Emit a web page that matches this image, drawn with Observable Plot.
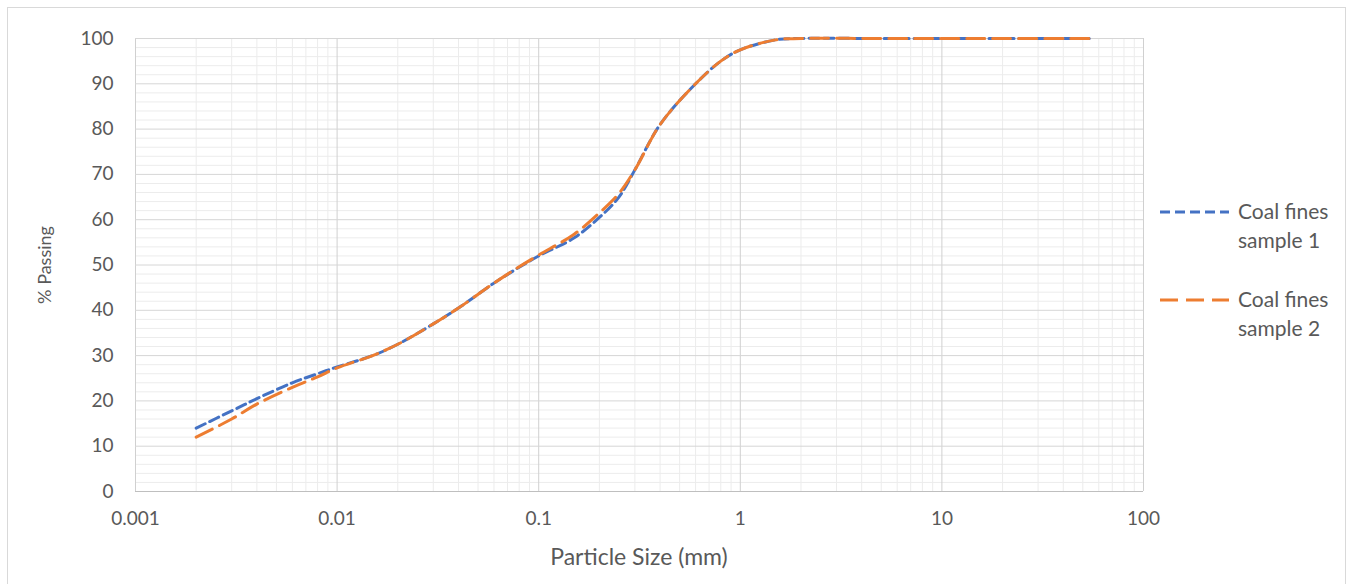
<!DOCTYPE html>
<html>
<head>
<meta charset="utf-8">
<script src="https://cdn.jsdelivr.net/npm/d3@7"></script>
<script src="https://cdn.jsdelivr.net/npm/@observablehq/plot@0.6"></script>
<style>
  html, body { margin: 0; padding: 0; background: #fff; }
  #chart svg { display: block; }
</style>
</head>
<body>
<div id="chart"></div>
<script>
// Particle size (mm)
const sizes1 = [0.002, 0.003, 0.004, 0.006, 0.008, 0.01, 0.015, 0.02, 0.03, 0.04, 0.06, 0.08, 0.1, 0.15, 0.2, 0.25, 0.3, 0.4, 0.6, 0.8, 1, 1.5, 2, 5, 10, 20, 55];
const passing1 = [14, 17.8, 20.5, 24, 26, 27.5, 30, 32.5, 37, 40.5, 46, 49.5, 52, 56, 60.5, 65, 71, 81, 90, 95, 97.5, 99.7, 100, 100, 100, 100, 100];
const sizes2 = [0.002, 0.003, 0.004, 0.006, 0.008, 0.01, 0.015, 0.02, 0.03, 0.04, 0.06, 0.08, 0.1, 0.15, 0.2, 0.25, 0.3, 0.4, 0.6, 0.8, 1, 1.5, 2, 5, 10, 20, 55];
const passing2 = [12, 16, 19.3, 23, 25.3, 27.3, 30, 32.5, 37, 40.5, 46, 49.6, 52.2, 56.8, 61.5, 65.8, 71, 81, 90, 95, 97.5, 99.7, 100, 100, 100, 100, 100];
const seriesNames = ["Coal fines sample 1", "Coal fines sample 2"];
const xTickValues = [0.001, 0.01, 0.1, 1, 10, 100];
const xTickLabels = ["0.001", "0.01", "0.1", "1", "10", "100"];
const yTickValues = [0, 10, 20, 30, 40, 50, 60, 70, 80, 90, 100];

const colors = ["#4472C4", "#ED7D31"];
const dashes = ["10,5", "18,8"];

const rows1 = sizes1.map((s, i) => ({size: s, pct: passing1[i]}));
const rows2 = sizes2.map((s, i) => ({size: s, pct: passing2[i]}));

const minorX = [];
for (let e = -3; e < 2; e++) for (let m = 2; m <= 9; m++) minorX.push(m * Math.pow(10, e));
const minorY = d3.range(0, 101, 2).filter(v => v % 10 !== 0);

const labelFmt = d => xTickLabels[xTickValues.indexOf(d)] ?? "";
const FONT = "Lato, 'Open Sans', sans-serif";

const plot = Plot.plot({
  width: 1354,
  height: 584,
  marginLeft: 135,
  marginRight: 211,
  marginTop: 38,
  marginBottom: 93,
  style: {fontFamily: FONT, fontSize: "19px", color: "#595959", background: "#fff"},
  x: {type: "log", domain: [0.001, 100]},
  y: {domain: [0, 100]},
  marks: [
    Plot.ruleX(minorX, {stroke: "#ececec", strokeWidth: 1}),
    Plot.ruleY(minorY, {stroke: "#ececec", strokeWidth: 1}),
    Plot.ruleX(xTickValues, {stroke: "#d0d0d0", strokeWidth: 1}),
    Plot.ruleY(yTickValues, {stroke: "#d6d6d6", strokeWidth: 1}),
    Plot.ruleY([0], {stroke: "#bfbfbf", strokeWidth: 1.2}),
    Plot.lineY(rows1, {x: "size", y: "pct", stroke: colors[0], strokeWidth: 3, strokeDasharray: dashes[0], curve: "catmull-rom"}),
    Plot.lineY(rows2, {x: "size", y: "pct", stroke: colors[1], strokeWidth: 3, strokeDasharray: dashes[1], curve: "catmull-rom"}),
    Plot.axisX({ticks: xTickValues, tickFormat: labelFmt, tickSize: 0, tickPadding: 20, label: null, fill: "#595959"}),
    Plot.axisY({ticks: yTickValues, tickSize: 0, tickPadding: 22, label: null, fill: "#595959"})
  ]
});

const svg = d3.select(plot);
// outer chart frame
svg.insert("rect", ":first-child")
  .attr("x", 7.5).attr("y", 7.5).attr("width", 1338).attr("height", 590)
  .attr("fill", "#fff").attr("stroke", "#d9d9d9").attr("stroke-width", 1);

// axis titles
svg.append("text").attr("x", 639).attr("y", 557).attr("dy", "0.35em")
  .attr("text-anchor", "middle").attr("font-family", FONT).attr("font-size", 23).attr("fill", "#595959")
  .text("Particle Size (mm)");
svg.append("text").attr("transform", "translate(45,265) rotate(-90)").attr("dy", "0.35em")
  .attr("text-anchor", "middle").attr("font-family", FONT).attr("font-size", 18).attr("fill", "#595959")
  .text("% Passing");

// legend
const legend = svg.append("g").attr("font-family", FONT).attr("font-size", 21).attr("fill", "#595959").attr("text-anchor", "start");
seriesNames.forEach((name, i) => {
  const y0 = 212 + i * 88;
  legend.append("line").attr("x1", 1160).attr("x2", 1229).attr("y1", y0).attr("y2", y0)
    .attr("stroke", colors[i]).attr("stroke-width", 3).attr("stroke-dasharray", dashes[i]);
  const words = name.split(" ");
  legend.append("text").attr("x", 1238).attr("y", y0).attr("dy", "0.35em").text(words.slice(0, 2).join(" "));
  legend.append("text").attr("x", 1238).attr("y", y0 + 29).attr("dy", "0.35em").text(words.slice(2).join(" "));
});

document.getElementById("chart").appendChild(plot);
</script>
</body>
</html>
